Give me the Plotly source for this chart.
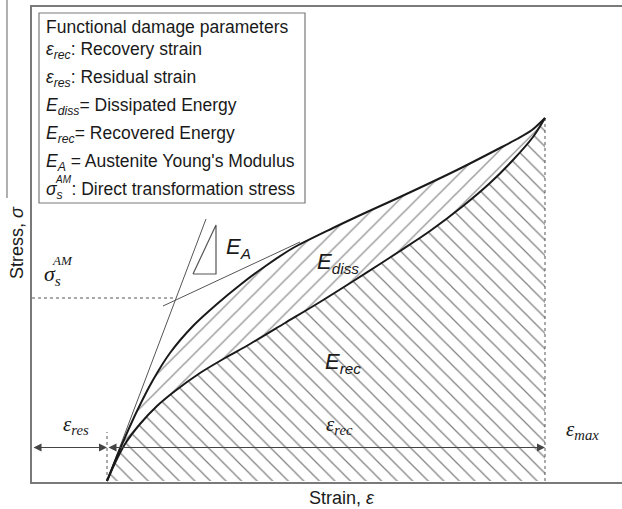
import plotly.graph_objects as go

# Superelastic cycle (schematic): strain in %, stress in arbitrary units
load_strain = [0.75, 0.83, 0.91, 1.05, 1.21, 1.38, 1.61, 1.85, 2.08, 2.35, 2.61,
               3.01, 3.35, 3.68, 4.25, 4.68, 4.85, 5.00, 5.13]
load_stress = [0.00, 0.20, 0.39, 0.70, 1.01, 1.28, 1.55, 1.77, 1.96, 2.16, 2.33,
               2.53, 2.69, 2.84, 3.11, 3.33, 3.42, 3.51, 3.63]

unload_strain = [0.75, 0.83, 0.93, 1.08, 1.25, 1.43, 1.68, 1.93, 2.18, 2.53, 2.88,
                 3.23, 3.48, 3.68, 3.98, 4.31, 4.58, 4.81, 5.01, 5.13]
unload_stress = [0.00, 0.18, 0.37, 0.57, 0.75, 0.90, 1.08, 1.23, 1.37, 1.58, 1.79,
                 2.01, 2.17, 2.30, 2.50, 2.75, 2.98, 3.21, 3.44, 3.63]

eps_res = 0.75          # residual strain
eps_max = 5.13          # maximum strain
sigma_max = 3.63        # stress at maximum strain
sigma_AM = 1.83         # direct transformation stress
arrow_level = 0.335     # height of the strain arrows

# Austenite elastic line and transformation tangent
elastic_strain = [0.75, 1.74]
elastic_stress = [0.00, 2.62]
tangent_strain = [1.31, 2.68]
tangent_stress = [1.75, 2.39]
sigma_AM_strain = [0.0, 1.43]

# Slope triangle for E_A
tri_strain = [1.61, 1.84, 1.84, 1.61]
tri_stress = [2.07, 2.07, 2.56, 2.07]

INK = "#1a1a1a"
THIN = "#555555"
HATCH = "#000000"
AXIS = "#7a7a7a"
SANS = "Liberation Sans, Arial, sans-serif"
SERIF = "Liberation Serif, Times New Roman, serif"

fig = go.Figure()

# Recovered energy: area under the unloading branch
fig.add_trace(go.Scatter(
    x=unload_strain + [eps_max, eps_res],
    y=unload_stress + [0.0, 0.0],
    mode="none", fill="toself", fillcolor="rgba(0,0,0,0)",
    fillpattern=dict(shape="\\", size=11, solidity=0.11,
                     fgcolor=HATCH, bgcolor="rgba(255,255,255,0)"),
    hoverinfo="skip", showlegend=False))

# Dissipated energy: area enclosed by the hysteresis loop
fig.add_trace(go.Scatter(
    x=load_strain + unload_strain[::-1],
    y=load_stress + unload_stress[::-1],
    mode="none", fill="toself", fillcolor="rgba(0,0,0,0)",
    fillpattern=dict(shape="/", size=12, solidity=0.1,
                     fgcolor=HATCH, bgcolor="rgba(255,255,255,0)"),
    hoverinfo="skip", showlegend=False))

thin = dict(color=THIN, width=1)
fig.add_trace(go.Scatter(x=elastic_strain, y=elastic_stress, mode="lines",
                         line=thin, hoverinfo="skip", showlegend=False))
fig.add_trace(go.Scatter(x=tangent_strain, y=tangent_stress, mode="lines",
                         line=thin, hoverinfo="skip", showlegend=False))
fig.add_trace(go.Scatter(x=tri_strain, y=tri_stress, mode="lines",
                         line=dict(color=THIN, width=1.2), hoverinfo="skip", showlegend=False))
fig.add_trace(go.Scatter(x=sigma_AM_strain, y=[sigma_AM, sigma_AM], mode="lines",
                         line=dict(color=THIN, width=1, dash="3px,3px"),
                         hoverinfo="skip", showlegend=False))
fig.add_trace(go.Scatter(x=[eps_res, eps_res], y=[0.0, 0.49], mode="lines",
                         line=dict(color=THIN, width=1, dash="3px,3px"),
                         hoverinfo="skip", showlegend=False))
fig.add_trace(go.Scatter(x=[eps_max, eps_max], y=[0.0, sigma_max], mode="lines",
                         line=dict(color=THIN, width=1, dash="3px,3px"),
                         hoverinfo="skip", showlegend=False))

# Loading and unloading branches
fig.add_trace(go.Scatter(x=load_strain, y=load_stress, mode="lines",
                         line=dict(color=INK, width=2, shape="spline", smoothing=0.8),
                         hoverinfo="skip", showlegend=False))
fig.add_trace(go.Scatter(x=unload_strain, y=unload_stress, mode="lines",
                         line=dict(color=INK, width=2, shape="spline", smoothing=0.8),
                         hoverinfo="skip", showlegend=False))

annotations = []

# Strain arrows
for a, b in [(0.0, eps_res), (eps_res, eps_max)]:
    annotations.append(dict(x=b, y=arrow_level, ax=a, ay=arrow_level,
                            xref="x", yref="y", axref="x", ayref="y", text="",
                            showarrow=True, arrowhead=2, arrowside="end+start",
                            arrowsize=1.6, arrowwidth=1, arrowcolor="#444444",
                            standoff=0, startstandoff=0))


def label(x, y, text, size, family, xanchor="left", yanchor="middle", **kw):
    annotations.append(dict(x=x, y=y, xref="x", yref="y", text=text,
                            showarrow=False, xanchor=xanchor, yanchor=yanchor,
                            font=dict(size=size, family=family, color=INK), **kw))


# Energy and modulus labels
label(1.92, 2.33, "<i>E</i><sub><i>A</i></sub>", 22, SANS)
label(2.83, 2.18, "<i>E</i><sub><i>diss</i></sub>", 22, SANS)
label(2.91, 1.18, "<i>E</i><sub><i>rec</i></sub>", 22, SANS)

# Strain labels
label(0.29, 0.56, "<i>ε</i><sub><i>res</i></sub>", 21, SERIF)
label(2.92, 0.56, "<i>ε</i><sub><i>rec</i></sub>", 21, SERIF)
label(5.32, 0.51, "<i>ε</i><sub><i>max</i></sub>", 21, SERIF)

# Transformation stress label
label(0.10, 2.06, "<i>σ</i><sub><i>s</i></sub>", 22, SERIF)
label(0.175, 2.21, "<i>AM</i>", 13, SERIF)

# Parameter box
fig.add_shape(type="rect", xref="x", yref="y", x0=0.07, x1=2.73, y0=2.78, y1=4.68,
              line=dict(color=AXIS, width=1.2), fillcolor="white", layer="above")

box_x = 0.12
box_rows = [
    (4.54, "Functional damage parameters"),
    (4.31, "<i>ε</i><sub><i>rec</i></sub>: Recovery strain"),
    (4.03, "<i>ε</i><sub><i>res</i></sub>: Residual strain"),
    (3.75, "<i>E</i><sub><i>diss</i></sub>= Dissipated Energy"),
    (3.47, "<i>E</i><sub><i>rec</i></sub>= Recovered Energy"),
    (3.19, "<i>E</i><sub><i>A</i></sub> = Austenite Young's Modulus"),
    (2.91, "<i>σ</i><sub><i>s</i></sub>\u2002: Direct transformation stress"),
]
for y, t in box_rows:
    label(box_x, y, t, 17.5, SANS)
label(box_x + 0.085, 3.02, "<i>AM</i>", 10, SANS)

# Axis titles
annotations.append(dict(x=-0.0254, y=0.503, xref="paper", yref="paper",
                        text="Stress, <i>σ</i>", textangle=-90, showarrow=False,
                        xanchor="center", yanchor="middle",
                        font=dict(size=18, family=SANS, color=INK)))
annotations.append(dict(x=0.525, y=-0.034, xref="paper", yref="paper",
                        text="Strain, <i>ε</i>", showarrow=False,
                        xanchor="center", yanchor="middle",
                        font=dict(size=18, family=SANS, color=INK)))

# Frame edge at the far left
fig.add_shape(type="line", xref="paper", yref="paper", x0=-0.0424, x1=-0.0424,
              y0=0.598, y1=1.02, line=dict(color=AXIS, width=1.2))

fig.update_layout(
    width=622, height=509,
    margin=dict(l=32, r=0, t=7, b=27),
    paper_bgcolor="white", plot_bgcolor="white",
    showlegend=False,
    annotations=annotations,
    xaxis=dict(range=[0, 5.90], showgrid=False, zeroline=False, showticklabels=False,
               ticks="", showline=True, mirror=True, linecolor=AXIS, linewidth=1.5,
               fixedrange=True),
    yaxis=dict(range=[-0.01, 4.74], showgrid=False, zeroline=False, showticklabels=False,
               ticks="", showline=True, mirror=False, linecolor=AXIS, linewidth=1.5,
               fixedrange=True),
)

fig.write_html("out.html")
